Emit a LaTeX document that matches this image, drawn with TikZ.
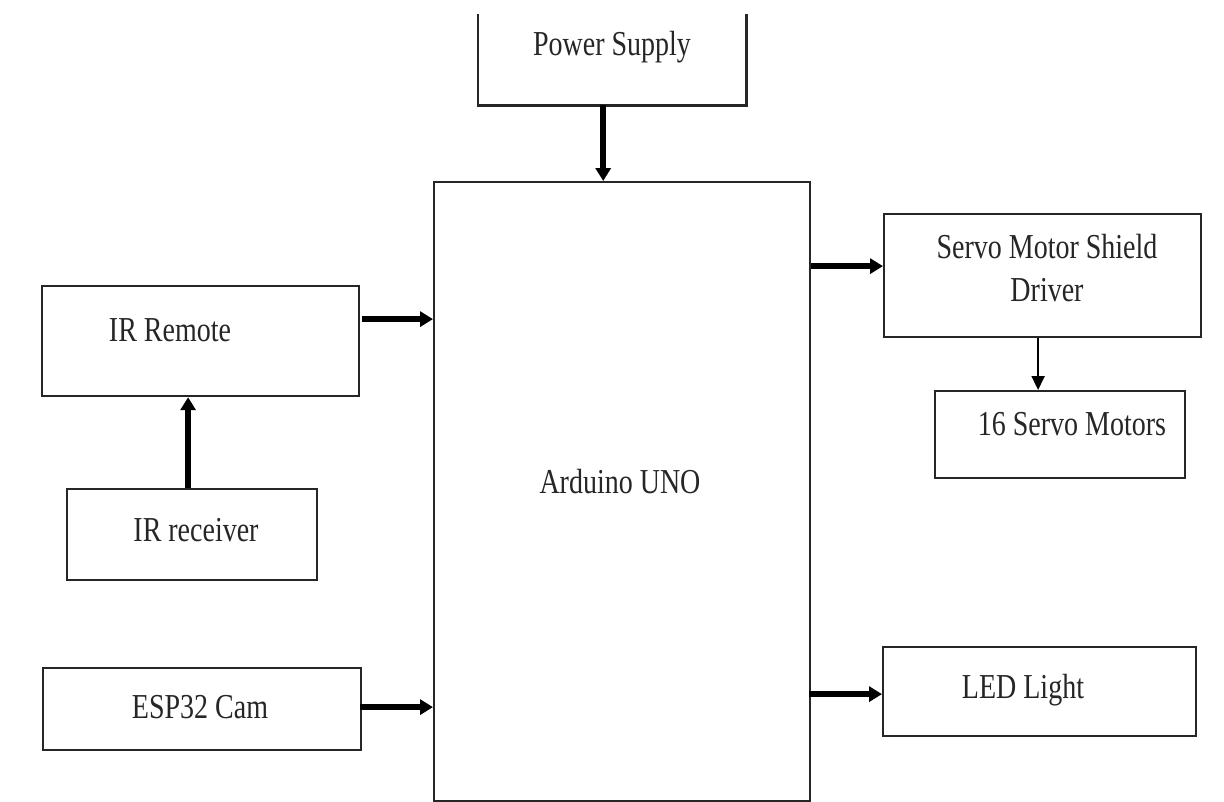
\documentclass[tikz,border=0pt]{standalone}
\usepackage{fontspec}
\setmainfont{Liberation Serif}[FakeStretch=0.8]
\usetikzlibrary{arrows.meta,calc}
\begin{document}
\begin{tikzpicture}[x=1pt,y=-1pt,
  blk/.style={draw=black!85, line width=2.2pt, inner sep=0pt, anchor=north west},
  lbl/.style={inner sep=0pt, text=black!85, font=\fontsize{35}{43}\selectfont, align=center},
  arr/.style={line width=5.5pt, -{Triangle[length=13pt,width=15pt]}},
  thinarr/.style={line width=2pt, -{Triangle[length=14pt,width=13pt]}}]
\useasboundingbox (0,0) rectangle (1224,801);
% Power supply (top edge cut off)
\node[inner sep=0pt, anchor=north west, minimum width=268pt, minimum height=91pt] (ps) at (478,14) {};
\draw[draw=black!85, line width=2.2pt] (ps.north west) -- (ps.south west) -- (ps.south east) -- (ps.north east);
\node[lbl] (pst) at (612,47) {Power Supply};
% Arduino
\node[blk, minimum width=376pt, minimum height=619pt] (ard) at (433,181) {};
\node[lbl] (ardt) at (620,482) {Arduino UNO};
% Servo driver
\node[blk, minimum width=317pt, minimum height=123pt] (servo) at (883,213) {};
\node[lbl] (servot) at (1047,268) {Servo Motor Shield\\Driver};
% 16 servo motors
\node[blk, minimum width=250pt, minimum height=87pt] (sm) at (934,390) {};
\node[lbl] (smt) at (1072,424) {16 Servo Motors};
% IR remote
\node[blk, minimum width=317pt, minimum height=110pt] (irrem) at (41,285) {};
\node[lbl] (irremt) at (170,330) {IR Remote};
% IR receiver
\node[blk, minimum width=250pt, minimum height=91pt] (irrec) at (66,488) {};
\node[lbl] (irrect) at (196,530) {IR receiver};
% ESP32 cam
\node[blk, minimum width=318pt, minimum height=82pt] (esp) at (42,667) {};
\node[lbl] (espt) at (200,707) {ESP32 Cam};
% LED light
\node[blk, minimum width=313pt, minimum height=89pt] (led) at (882,646) {};
\node[lbl] (ledt) at (1023,690) {LED Light};
% connectors
\draw[arr] ([xshift=-9pt]ps.south) -- ([xshift=-9pt]ps.south |- ard.north);
\draw[arr] ([xshift=-4pt]irrec.north) -- ([xshift=-4pt]irrec.north |- irrem.south);
\draw[arr] ([xshift=2pt,yshift=22pt]irrem.east) -- ([yshift=22pt]irrem.east -| ard.west);
\draw[arr] ([xshift=-2pt,yshift=2pt]esp.east) -- ([yshift=2pt]esp.east -| ard.west);
\draw[arr] ([yshift=9.5pt]servo.west -| ard.east) -- ([yshift=9.5pt]servo.west);
\draw[arr] ([xshift=-2pt,yshift=-2.5pt]led.west -| ard.east) -- ([yshift=-2.5pt]led.west);
\draw[thinarr] ([xshift=-4.5pt]servo.south) -- ([xshift=-4.5pt]servo.south |- sm.north);
\end{tikzpicture}
\end{document}
